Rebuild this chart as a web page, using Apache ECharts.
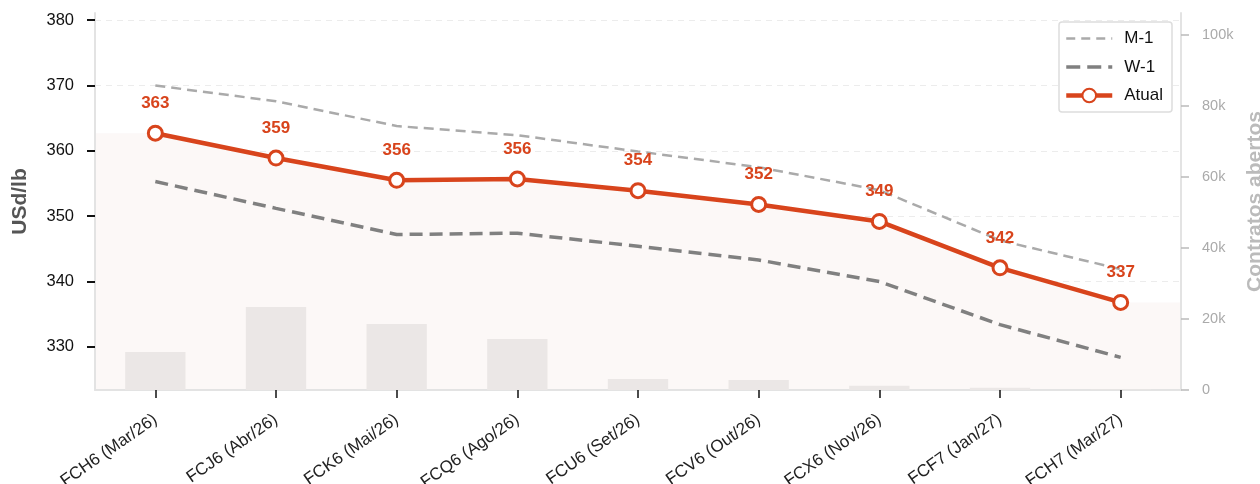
<!DOCTYPE html>
<html>
<head>
<meta charset="utf-8">
<script src="https://cdn.jsdelivr.net/npm/echarts@6/dist/echarts.min.js"></script>
<style>
  html, body { margin: 0; padding: 0; background: #fff; }
  #chart { width: 1260px; height: 484px; }
</style>
</head>
<body>
<div id="chart"></div>
<script>
// contratos de café (ICE) - curva atual vs semana/mês anterior
var contracts = ['FCH6 (Mar/26)', 'FCJ6 (Abr/26)', 'FCK6 (Mai/26)', 'FCQ6 (Ago/26)', 'FCU6 (Set/26)',
  'FCV6 (Out/26)', 'FCX6 (Nov/26)', 'FCF7 (Jan/27)', 'FCH7 (Mar/27)'];
var atual = [362.7, 358.9, 355.5, 355.7, 353.9, 351.8, 349.2, 342.1, 336.8];
var m1 = [370.0, 367.6, 363.8, 362.4, 359.9, 357.5, 354.0, 346.3, 341.9];
var w1 = [355.3, 351.2, 347.2, 347.4, 345.4, 343.3, 340.0, 333.4, 328.4];
var openInterest = [10700, 23400, 18600, 14400, 3100, 2800, 1200, 600, 150];
var priceTicks = [330, 340, 350, 360, 370, 380];
var oiTicks = [0, 20000, 40000, 60000, 80000, 100000];

var FONT = '"Liberation Sans", Arial, sans-serif';
var ORANGE = '#d8441c';

// area under the current curve, stretched flat to both plot edges
var n = atual.length;
var fillData = [[-0.5, atual[0]]];
atual.forEach(function (v, i) { fillData.push([i, v]); });
fillData.push([n - 0.5, atual[n - 1]]);

// legend entries for the dashed references: line only, no marker
var noMarker = { color: 'rgba(0,0,0,0)', borderWidth: 0, opacity: 0 };

var myChart = echarts.init(document.getElementById('chart'), null, { renderer: 'canvas' });

var option = {
  backgroundColor: '#fff',
  animation: false,
  textStyle: { fontFamily: FONT },
  grid: { left: 95, right: 79, top: 13, bottom: 94, containLabel: false, outerBoundsMode: 'none' },
  legend: {
    data: [
      { name: 'M-1', itemStyle: noMarker, lineStyle: { width: 2.5, color: '#aaaaaa', type: [9, 6] } },
      { name: 'W-1', itemStyle: noMarker, lineStyle: { width: 3.5, color: '#808080', type: [14, 7] } },
      { name: 'Atual', lineStyle: { width: 4.5, color: ORANGE, type: 'solid' } }
    ],
    orient: 'vertical',
    right: 88,
    top: 22,
    itemWidth: 46,
    itemHeight: 17,
    itemGap: 11.5,
    padding: [8, 9, 8, 5],
    backgroundColor: '#fff',
    borderColor: '#dddddd',
    borderWidth: 1.5,
    borderRadius: 3,
    textStyle: { fontSize: 17, color: '#111', fontFamily: FONT, padding: [0, 0, 0, 7] }
  },
  xAxis: [
    {
      type: 'category',
      data: contracts,
      boundaryGap: true,
      axisLine: { show: true, lineStyle: { color: '#e3e3e3', width: 2 } },
      axisTick: { show: true, alignWithLabel: true, length: 8, lineStyle: { color: '#111', width: 1.5 } },
      axisLabel: { rotate: 35, fontSize: 17, color: '#222', margin: 28, fontFamily: FONT },
      splitLine: { show: false }
    },
    {
      type: 'value',
      min: -0.5,
      max: n - 0.5,
      show: false
    }
  ],
  yAxis: [
    {
      type: 'value',
      min: 323.4,
      max: 381.1,
      name: 'USd/lb',
      nameLocation: 'middle',
      nameGap: 64,
      nameTextStyle: { fontSize: 21, fontWeight: 'bold', color: '#555', fontFamily: FONT },
      axisLine: { show: true, onZero: false, lineStyle: { color: '#e3e3e3', width: 2 } },
      axisTick: { show: true, length: 8, customValues: priceTicks, lineStyle: { color: '#111', width: 2 } },
      axisLabel: { fontSize: 16.5, color: '#111', margin: 21, customValues: priceTicks, fontFamily: FONT },
      splitLine: { show: true, lineStyle: { color: '#ececec', type: [6, 5], width: 1.2 } }
    },
    {
      type: 'value',
      min: 0,
      max: 106200,
      position: 'right',
      name: 'Contratos abertos',
      nameLocation: 'middle',
      nameGap: 58,
      nameRotate: 90,
      nameTextStyle: { fontSize: 21, fontWeight: 'bold', color: '#bbbbbb', fontFamily: FONT },
      axisLine: { show: true, onZero: false, lineStyle: { color: '#e3e3e3', width: 2 } },
      axisTick: { show: true, length: 8, customValues: oiTicks, lineStyle: { color: '#bbbbbb', width: 1.5 } },
      axisLabel: {
        fontSize: 14.5, color: '#aaaaaa', margin: 21, customValues: oiTicks, fontFamily: FONT,
        formatter: function (v) { return v === 0 ? '0' : (v / 1000) + 'k'; }
      },
      splitLine: { show: false }
    }
  ],
  series: [
    {
      name: 'fill',
      type: 'line',
      xAxisIndex: 1,
      yAxisIndex: 0,
      data: fillData,
      symbol: 'none',
      silent: true,
      z: 0,
      lineStyle: { width: 0, opacity: 0 },
      areaStyle: { color: '#fcf8f7', opacity: 1, origin: 'start' }
    },
    {
      name: 'Contratos abertos',
      type: 'bar',
      xAxisIndex: 0,
      yAxisIndex: 1,
      data: openInterest,
      barWidth: '50%',
      z: 1,
      itemStyle: { color: '#ebe7e6' }
    },
    {
      name: 'M-1',
      type: 'line',
      data: m1,
      symbol: 'none',
      z: 3,
      color: '#aaaaaa',
      lineStyle: { color: '#aaaaaa', width: 2.5, type: [10, 6] }
    },
    {
      name: 'W-1',
      type: 'line',
      data: w1,
      symbol: 'none',
      z: 3,
      color: '#808080',
      lineStyle: { color: '#808080', width: 3.5, type: [13, 7] }
    },
    {
      name: 'Atual',
      type: 'line',
      data: atual,
      symbol: 'circle',
      symbolSize: 14,
      z: 5,
      color: ORANGE,
      lineStyle: { color: ORANGE, width: 4.5 },
      itemStyle: { color: '#fff', borderColor: ORANGE, borderWidth: 3 },
      label: {
        show: true,
        position: 'top',
        distance: 13,
        color: ORANGE,
        fontSize: 17,
        fontWeight: 'bold',
        fontFamily: FONT,
        formatter: function (p) { return Math.round(p.value); }
      }
    }
  ]
};

myChart.setOption(option);
</script>
</body>
</html>
